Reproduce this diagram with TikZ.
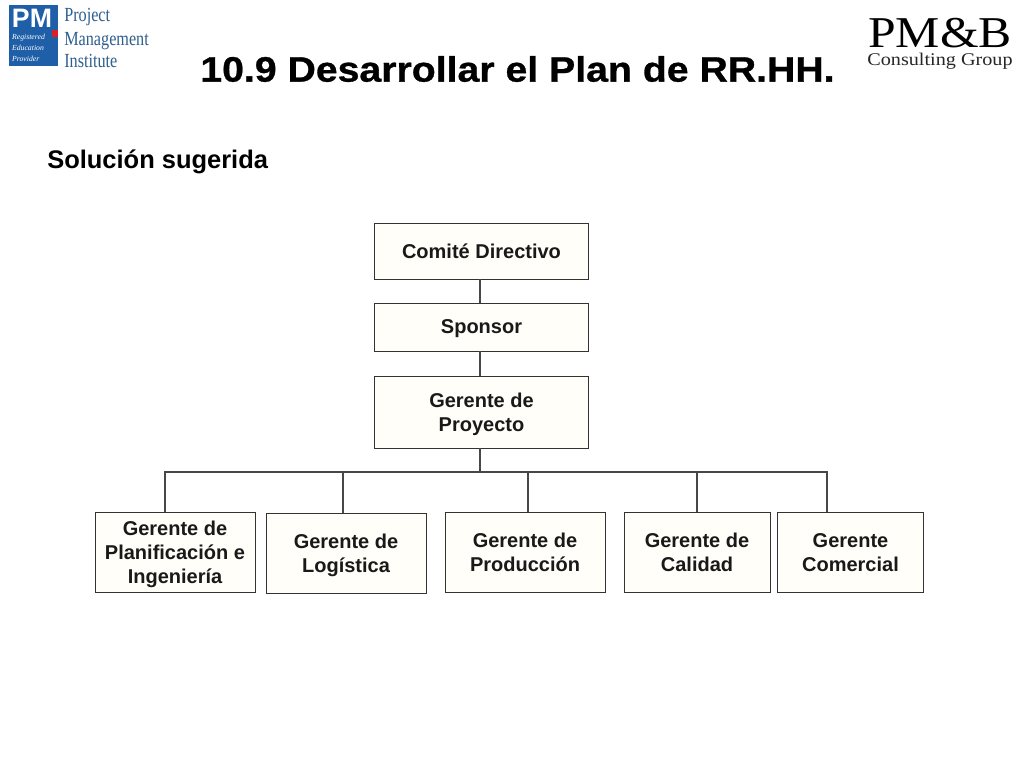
\documentclass[tikz,border=0pt]{standalone}
\usepackage{fontspec}
\setmainfont{Liberation Sans}
\newfontfamily\logoserif{Liberation Serif}
\newfontfamily\logowide[FakeStretch=1.13]{Liberation Serif}
\newfontfamily\pminarrow[FakeStretch=0.81]{Liberation Serif}
\newfontfamily\titlefont[FakeStretch=1.11,FakeBold=0.8]{Liberation Sans Bold}
\definecolor{boxfill}{HTML}{FFFEF8}
\definecolor{linkgray}{HTML}{474747}
\definecolor{pmiblue}{HTML}{1F5FA8}
\definecolor{pmitext}{HTML}{2F5F8F}
\definecolor{pmired}{HTML}{D81F2A}
\tikzset{
  orgbox/.style={draw=black!80, fill=boxfill, line width=0.7pt, align=center, inner sep=0pt, text depth=-1.5pt,
    font=\fontsize{15}{18}\selectfont\bfseries\color{black!90}},
  orglink/.style={draw=linkgray, line width=1.5pt},
  pmiword/.style={anchor=base west, inner sep=0pt, text=pmitext, font=\pminarrow\fontsize{15}{16}\selectfont}
}
\begin{document}
\begin{tikzpicture}[x=0.75pt, y=-0.75pt]
        \useasboundingbox (0,0) rectangle (1024,768);
        \fill[white] (0,0) rectangle (1024,768);

        % Title lines
        \node[font=\titlefont\fontsize{26.5}{30}\selectfont, inner sep=0pt] (title) at (517.5,69) {10.9 Desarrollar el Plan de RR.HH.};
        \node[font=\fontsize{19.1}{22}\selectfont\bfseries, anchor=west, inner sep=0pt] (subtitle) at (47,162) {Solución sugerida};

        % PMI logo
        \fill[pmiblue] (9,5) rectangle (58,66);
        \fill[pmired] (52,30) rectangle (58,37);
        \node[text=white, font=\fontsize{20}{20}\selectfont\bfseries, inner sep=0pt] (pmimark) at (32,18) {PM};
        \node[text=white, align=left, inner sep=0pt, font=\logoserif\itshape\fontsize{5.8}{8}\selectfont] (pmicaption) at (28.5,48) {Registered\\Education\\Provider};
        \node[pmiword] (pmione) at (64,21) {Project};
        \node[pmiword] (pmitwo) at (64,45) {Management};
        \node[pmiword] (pmithree) at (64,67) {Institute};

        % PM&B logo
        \node[font=\logowide\fontsize{33}{34}\selectfont, inner sep=0pt, anchor=base] (pmbname) at (940,47) {PM\&B};
        \node[font=\logowide\fontsize{13.4}{14}\selectfont, inner sep=0pt, text=black!85, anchor=base] (pmbgroup) at (940,65) {Consulting Group};

        % Top of the chart
        \node[orgbox, minimum width=160.5pt, minimum height=42pt] (comite) at (481.5,251) {Comité Directivo};
        \node[orgbox, minimum width=160.5pt, minimum height=36pt] (sponsor) at (481.5,327) {Sponsor};
        \node[orgbox, minimum width=160.5pt, minimum height=54pt] (gerente) at (481.5,412) {Gerente de\\Proyecto};

        % Bottom row
        \node[orgbox, minimum width=120pt, minimum height=60.5pt] (planif) at (175,552.5) {Gerente de\\Planificación e\\Ingeniería};
        \node[orgbox, minimum width=120pt, minimum height=60.5pt] (logist) at (346,553.5) {Gerente de\\Logística};
        \node[orgbox, minimum width=120pt, minimum height=60.5pt] (produc) at (525,552.5) {Gerente de\\Producción};
        \node[orgbox, minimum width=109.5pt, minimum height=60.5pt] (calidad) at (697,552.5) {Gerente de\\Calidad};
        \node[orgbox, minimum width=109.5pt, minimum height=60.5pt] (comercial) at (850.5,552.5) {Gerente\\Comercial};

        % Points on the bus
        \coordinate (busL) at (165,472);
        \coordinate (busR) at (827,472);
        \coordinate (busA) at (343,472);
        \coordinate (busB) at (528,472);
        \coordinate (busC) at (697,472);
        \coordinate (busM) at (480,472);

        % Connectors
        \draw[orglink] (comite.south -| busM) -- (sponsor.north -| busM);
        \draw[orglink] (sponsor.south -| busM) -- (gerente.north -| busM);
        \draw[orglink] (gerente.south -| busM) -- (busM);
        \draw[orglink, line cap=rect] (busL) -- (busR);
        \draw[orglink] (busL) -- (planif.north -| busL);
        \draw[orglink] (busA) -- (logist.north -| busA);
        \draw[orglink] (busB) -- (produc.north -| busB);
        \draw[orglink] (busC) -- (calidad.north -| busC);
        \draw[orglink] (busR) -- (comercial.north -| busR);
\end{tikzpicture}
\end{document}
